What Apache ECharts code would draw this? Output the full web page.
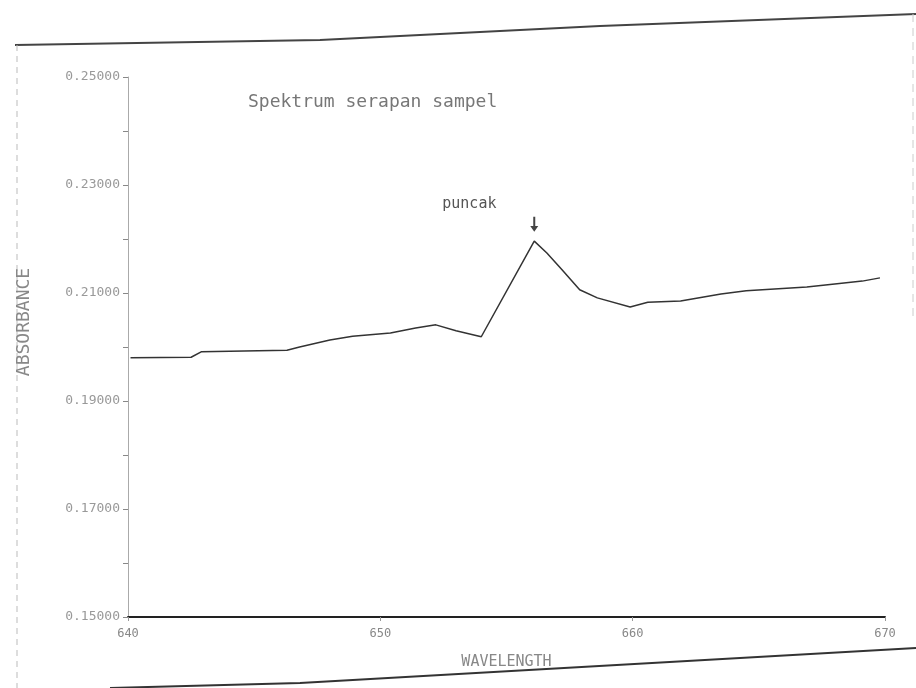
<!DOCTYPE html>
<html>
<head>
<meta charset="utf-8">
<script src="https://cdn.jsdelivr.net/npm/echarts@6/dist/echarts.min.js"></script>
<style>html,body{margin:0;padding:0;background:#fff}#c{width:916px;height:688px}</style>
</head>
<body>
<div id="c"></div>
<script>
// Wavelength (nm) sampled along the trace
var wavelengths = [640.1, 642.5, 642.9, 646.3, 646.8, 648.0, 648.9, 650.4, 651.4, 652.2, 653.0, 654.0,
  656.1, 656.6, 657.2, 657.9, 658.6, 659.9, 660.6, 661.9, 663.5, 664.5, 666.9, 668.1, 669.1, 669.8];
// Absorbance values
var absorbance = [0.1980, 0.1981, 0.1991, 0.1994, 0.2000, 0.2013, 0.2020, 0.2026, 0.2035, 0.2041, 0.2030, 0.2019,
  0.2196, 0.2174, 0.2143, 0.2106, 0.2091, 0.2074, 0.2083, 0.2085, 0.2098, 0.2104, 0.2111, 0.2117, 0.2122, 0.2128];
var yLabelValues = [0.15, 0.17, 0.19, 0.21, 0.23, 0.25];
var yTickValues = [0.15, 0.16, 0.17, 0.18, 0.19, 0.20, 0.21, 0.22, 0.23, 0.24, 0.25];
var peakIndex = 12;

var mono = '"DejaVu Sans Mono", "Liberation Mono", monospace';
var seriesData = wavelengths.map(function (w, i) { return [w, absorbance[i]]; });

var chart = echarts.init(document.getElementById('c'));
chart.setOption({
  backgroundColor: '#ffffff',
  animation: false,
  title: {
    text: 'Spektrum serapan sampel',
    left: 243, top: 88,
    textStyle: { fontFamily: mono, fontSize: 18, fontWeight: 'normal', color: '#777' }
  },
  grid: { left: 128, right: 31, top: 77, bottom: 71 },
  xAxis: {
    type: 'value', min: 640, max: 670, interval: 10,
    name: 'WAVELENGTH', nameLocation: 'middle', nameGap: 38,
    nameTextStyle: { fontFamily: mono, fontSize: 15, color: '#888' },
    axisLine: { lineStyle: { color: '#222', width: 2 } },
    axisTick: { show: true, length: 4, lineStyle: { color: '#999' } },
    axisLabel: { fontFamily: mono, fontSize: 12, color: '#888', margin: 11 },
    splitLine: { show: false }
  },
  yAxis: {
    type: 'value', min: 0.15, max: 0.25,
    axisLine: { show: true, lineStyle: { color: '#aaa', width: 1 } },
    axisTick: { show: true, length: 5, customValues: yTickValues, lineStyle: { color: '#888' } },
    axisLabel: {
      customValues: yLabelValues, fontFamily: mono, fontSize: 13, color: '#999', margin: 8,
      formatter: function (v) { return v.toFixed(5); }
    },
    splitLine: { show: false }
  },
  graphic: [
    { type: 'polyline', silent: true, shape: { points: [[15, 45], [320, 40], [600, 26], [916, 14]] },
      style: { stroke: '#444', lineWidth: 2, fill: null } },
    { type: 'line', silent: true, shape: { x1: 17, y1: 45, x2: 17, y2: 688 },
      style: { stroke: '#bbb', lineWidth: 1, lineDash: [6, 5] } },
    { type: 'line', silent: true, shape: { x1: 913, y1: 14, x2: 913, y2: 320 },
      style: { stroke: '#ccc', lineWidth: 1, lineDash: [8, 6] } },
    { type: 'polyline', silent: true, shape: { points: [[110, 688], [300, 683], [916, 648]] },
      style: { stroke: '#333', lineWidth: 2, fill: null } },
    { type: 'text', silent: true, x: 24, y: 322, rotation: Math.PI / 2,
      style: { text: 'ABSORBANCE', fontFamily: mono, fontSize: 18, fill: '#888', align: 'center', verticalAlign: 'middle' } }
  ],
  series: [{
    type: 'line',
    data: seriesData,
    showSymbol: false,
    lineStyle: { color: '#333', width: 1.5 },
    markPoint: {
      symbol: 'path://M3,0 L5,0 L5,10 L8,10 L4,16 L0,10 L3,10 Z',
      symbolSize: [8, 15],
      symbolOffset: [0, -17],
      itemStyle: { color: '#444' },
      label: {
        show: true, formatter: 'puncak', position: [-88, -13], align: 'left', verticalAlign: 'middle',
        fontFamily: mono, fontSize: 15, color: '#555'
      },
      data: [{ coord: seriesData[peakIndex] }]
    }
  }]
});
</script>
</body>
</html>
